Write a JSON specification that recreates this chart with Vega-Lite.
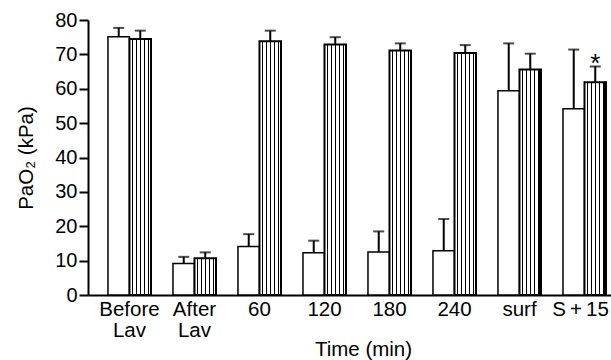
{
  "$schema": "https://vega.github.io/schema/vega-lite/v6.json",
  "width": 523,
  "height": 275,
  "autosize": "none",
  "padding": {"left": 88, "top": 20, "right": 0, "bottom": 65},
  "background": "white",
  "config": {
    "view": {"stroke": null},
    "font": "Liberation Sans",
    "axis": {"labelFont": "Liberation Sans", "titleFont": "Liberation Sans", "labelColor": "black", "titleColor": "black", "domainColor": "black", "tickColor": "black", "titleFontWeight": "normal"}
  },
  "data": {
    "values": [
      {"time": "Before Lav", "group": "A", "mean": 75.1, "upper": 77.7},
      {"time": "Before Lav", "group": "B", "mean": 74.5, "upper": 76.9},
      {"time": "After Lav", "group": "A", "mean": 9.2, "upper": 11.1},
      {"time": "After Lav", "group": "B", "mean": 10.7, "upper": 12.4},
      {"time": "60", "group": "A", "mean": 14.1, "upper": 17.7},
      {"time": "60", "group": "B", "mean": 73.8, "upper": 76.9},
      {"time": "120", "group": "A", "mean": 12.3, "upper": 15.8},
      {"time": "120", "group": "B", "mean": 72.9, "upper": 75.0},
      {"time": "180", "group": "A", "mean": 12.5, "upper": 18.5},
      {"time": "180", "group": "B", "mean": 71.1, "upper": 73.2},
      {"time": "240", "group": "A", "mean": 12.9, "upper": 22.1},
      {"time": "240", "group": "B", "mean": 70.4, "upper": 72.7},
      {"time": "surf", "group": "A", "mean": 59.4, "upper": 73.2},
      {"time": "surf", "group": "B", "mean": 65.6, "upper": 70.2},
      {"time": "S + 15", "group": "A", "mean": 54.2, "upper": 71.4},
      {"time": "S + 15", "group": "B", "mean": 61.9, "upper": 66.5, "sig": "*"}
    ]
  },
  "encoding": {
    "x": {
      "field": "time",
      "type": "nominal",
      "sort": ["Before Lav", "After Lav", "60", "120", "180", "240", "surf", "S + 15"],
      "scale": {"paddingInner": 0.338, "paddingOuter": 0.192, "align": 0.8},
      "axis": {
        "title": "Time (min)",
        "titleFontSize": 20.5,
        "titlePadding": -1,
        "titleX": 275,
        "labelFontSize": 20.5,
        "labelAngle": 0,
        "labelPadding": 4,
        "labelLineHeight": 21,
        "labelOffset": {"condition": {"test": "datum.value === 'S + 15'", "value": -4}, "value": 0},
        "labelExpr": "indexof(datum.label, 'Lav') > 0 ? split(datum.label, ' ') : (datum.label == 'S + 15' ? 'S\u2009+\u200915' : datum.label)",
        "ticks": false,
        "domainWidth": 2
      }
    },
    "xOffset": {"field": "group", "type": "nominal", "sort": ["A", "B"], "scale": {"paddingInner": 0, "paddingOuter": 0}},
    "y": {
      "field": "mean",
      "type": "quantitative",
      "scale": {"domain": [0, 80], "nice": false},
      "axis": {
        "title": "PaO₂ (kPa)",
        "titleFontSize": 20.5,
        "titlePadding": 18,
        "values": [0, 10, 20, 30, 40, 50, 60, 70, 80],
        "labelFontSize": 20,
        "labelPadding": 2,
        "tickSize": 9,
        "tickWidth": 2,
        "domainWidth": 2,
        "grid": false
      }
    }
  },
  "layer": [
    {
      "mark": {"type": "bar", "stroke": "black"},
      "encoding": {
        "fill": {
          "condition": {
            "test": "datum.group == 'B'",
            "value": {
              "gradient": "linear", "x1": 0, "y1": 0, "x2": 1, "y2": 0,
              "stops": [
                {"offset": 0, "color": "white"},
                {"offset": 0.12, "color": "white"}, {"offset": 0.12, "color": "black"},
                {"offset": 0.17, "color": "black"}, {"offset": 0.17, "color": "white"},
                {"offset": 0.31, "color": "white"}, {"offset": 0.31, "color": "black"},
                {"offset": 0.36, "color": "black"}, {"offset": 0.36, "color": "white"},
                {"offset": 0.5, "color": "white"}, {"offset": 0.5, "color": "black"},
                {"offset": 0.55, "color": "black"}, {"offset": 0.55, "color": "white"},
                {"offset": 0.69, "color": "white"}, {"offset": 0.69, "color": "black"},
                {"offset": 0.74, "color": "black"}, {"offset": 0.74, "color": "white"},
                {"offset": 0.88, "color": "white"}, {"offset": 0.88, "color": "black"},
                {"offset": 0.93, "color": "black"}, {"offset": 0.93, "color": "white"},
                {"offset": 1, "color": "white"}
              ]
            }
          },
          "value": "white"
        },
        "strokeWidth": {"condition": {"test": "datum.group == 'B'", "value": 2}, "value": 1.5}
      }
    },
    {
      "mark": {"type": "rule", "color": "black", "strokeWidth": 2},
      "encoding": {"y2": {"field": "upper"}}
    },
    {
      "mark": {"type": "tick", "color": "black", "thickness": 2, "size": 11, "orient": "horizontal"},
      "encoding": {"y": {"field": "upper", "type": "quantitative"}}
    },
    {
      "transform": [{"filter": "datum.sig"}],
      "mark": {"type": "text", "fontSize": 26, "baseline": "alphabetic", "dy": 6, "color": "black", "font": "Liberation Sans"},
      "encoding": {"y": {"field": "upper", "type": "quantitative"}, "text": {"field": "sig"}}
    }
  ]
}
